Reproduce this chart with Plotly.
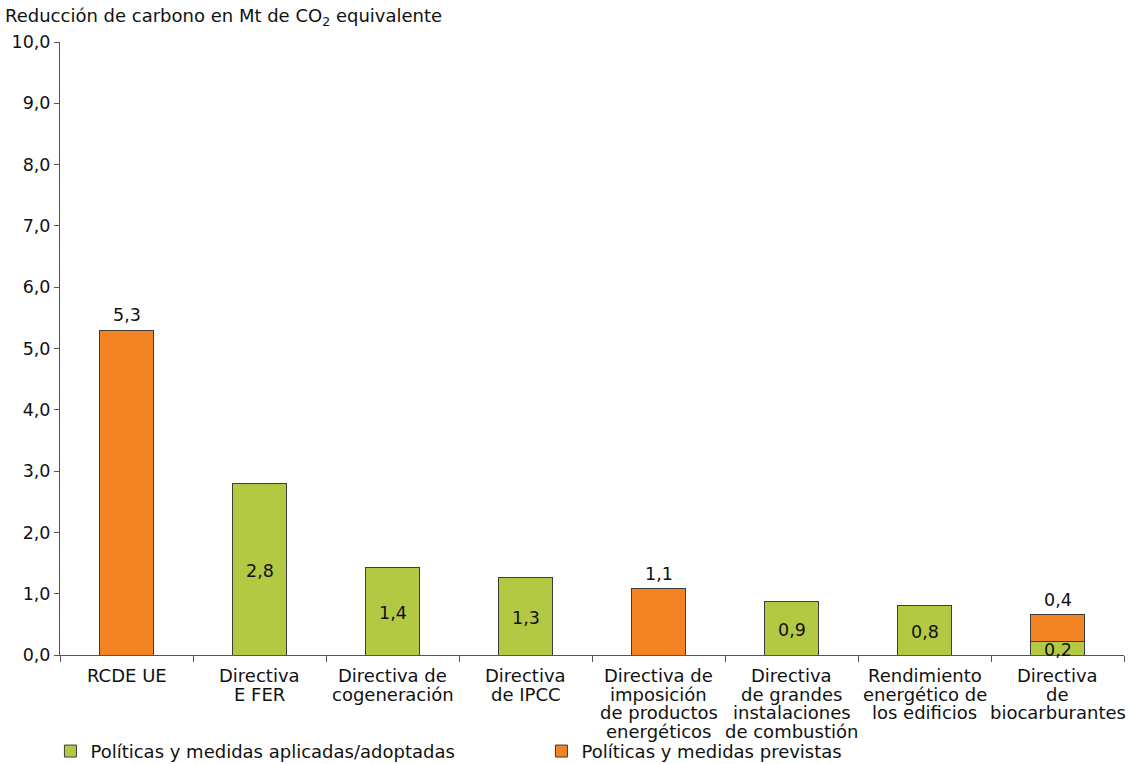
import plotly.graph_objects as go

# Categorías del eje X (saltos de línea con <br>)
categorias = [
    "RCDE UE",
    "Directiva<br>E FER",
    "Directiva de<br>cogeneración",
    "Directiva<br>de IPCC",
    "Directiva de<br>imposición<br>de productos<br>energéticos",
    "Directiva<br>de grandes<br>instalaciones<br>de combustión",
    "Rendimiento<br>energético de<br>los edificios",
    "Directiva<br>de<br>biocarburantes",
]

# Reducción (Mt CO2 eq.) por tipo de política; None = sin barra
aplicadas = [None, 2.80, 1.43, 1.26, None, 0.87, 0.81, 0.22]
previstas = [5.30, None, None, None, 1.08, None, None, 0.44]

serie_aplicadas = "Políticas y medidas aplicadas/adoptadas"
serie_previstas = "Políticas y medidas previstas"

VERDE = "#b3c944"
NARANJA = "#f28424"
BORDE = "#3c3c3c"
FUENTE = "DejaVu Sans"
TAM_TXT = 18
TAM_NUM = 17.5

fig = go.Figure()
fig.add_trace(go.Bar(
    x=categorias, y=aplicadas, name=serie_aplicadas, width=0.4,
    marker=dict(color=VERDE, line=dict(color=BORDE, width=1)),
))
fig.add_trace(go.Bar(
    x=categorias, y=previstas, name=serie_previstas, width=0.4,
    marker=dict(color=NARANJA, line=dict(color=BORDE, width=1)),
))


def fmt(v):
    return f"{v:.1f}".replace(".", ",")


anotaciones = []
for cat, a, p in zip(categorias, aplicadas, previstas):
    base = a or 0
    if a is not None:
        anotaciones.append(dict(
            x=cat, y=a / 2, xref="x", yref="y", text=fmt(a), showarrow=False,
            yanchor="middle", yshift=-2, font=dict(family=FUENTE, size=TAM_NUM, color="#111"),
        ))
    if p is not None:
        anotaciones.append(dict(
            x=cat, y=base + p, xref="x", yref="y", text=fmt(p), showarrow=False,
            yanchor="bottom", yshift=3, font=dict(family=FUENTE, size=TAM_NUM, color="#111"),
        ))
    # etiqueta de la categoría, una línea por anotación para un interlineado compacto
    for i, linea in enumerate(cat.split("<br>")):
        anotaciones.append(dict(
            x=cat, y=0, xref="x", yref="paper", text=linea, showarrow=False,
            yanchor="top", yshift=-8 - i * 18.6,
            font=dict(family=FUENTE, size=TAM_TXT, color="#111"),
        ))

anotaciones.append(dict(
    x=0, y=1, xref="paper", yref="paper", xanchor="left", yanchor="bottom",
    xshift=-57, yshift=11,
    text="Reducción de carbono en Mt de CO<sub>2</sub> equivalente",
    showarrow=False, font=dict(family=FUENTE, size=TAM_TXT, color="#111"),
))

fig.update_layout(
    width=1138, height=764,
    margin=dict(l=60, r=14, t=42, b=109, autoexpand=False),
    paper_bgcolor="white", plot_bgcolor="white",
    barmode="stack",
    separators=",.",
    font=dict(family=FUENTE, size=TAM_TXT, color="#111"),
    showlegend=True,
    legend=dict(
        orientation="h", x=-0.009, y=-0.127, xanchor="left", yanchor="top",
        entrywidth=446, entrywidthmode="pixels", traceorder="normal",
        font=dict(family=FUENTE, size=TAM_TXT, color="#111"),
    ),
    annotations=anotaciones,
)
fig.update_xaxes(
    range=[-0.5, 7.5], showticklabels=False, tickson="boundaries",
    ticks="outside", ticklen=6, tickcolor="#555",
    showline=True, linecolor="#555", linewidth=1, showgrid=False, zeroline=False,
)
fig.update_yaxes(
    range=[0, 10], dtick=1, tickformat=".1f",
    ticks="outside", ticklen=5, tickcolor="#555",
    showline=True, linecolor="#555", linewidth=1, showgrid=False, zeroline=False,
    tickfont=dict(family=FUENTE, size=TAM_NUM, color="#111"),
)

fig.write_html("out.html")
